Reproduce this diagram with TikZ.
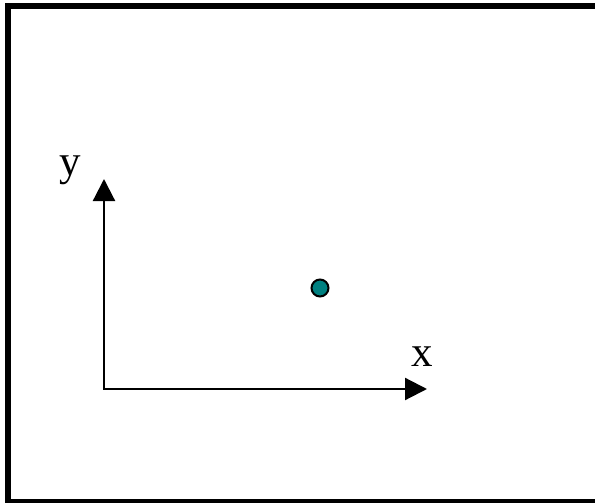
\documentclass[tikz,border=0pt]{standalone}
\usepackage{fontspec}
\setmainfont{Liberation Serif}
\usepackage{tikz}
\usetikzlibrary{positioning,arrows.meta}
\definecolor{dotteal}{RGB}{0,128,128}

\begin{document}
\begin{tikzpicture}[
    x=1pt, y=-1pt,
    font=\fontsize{43}{50}\selectfont,
    frame/.style={
        draw,
        line width=6pt
    },
    axis/.style={
        -{Triangle[length=22pt,width=22pt]},
        line width=2.2pt,
        line cap=rect
    },
    point/.style={
        circle,
        draw,
        line width=2pt,
        fill=dotteal,
        minimum size=17pt,
        inner sep=0pt
    },
    label/.style={inner sep=0pt}
]

\useasboundingbox (0,0) rectangle (595,503);
\clip (0,0) rectangle (595,503);

% outer frame
\draw[frame] (8,6) rectangle (598,502);

\coordinate (origin) at (104,389);
\coordinate (ytip) at (104,179);
\coordinate (xtip) at (427,389);

% axes
\draw[axis] (origin) -- (ytip);
\draw[axis] (origin) -- (xtip);

\node[label] (ylabel) at (70,170) {y};
\node[label] (xlabel) at (422,357) {x};

\node[point] (dot) at (320,288) {};

\end{tikzpicture}
\end{document}
